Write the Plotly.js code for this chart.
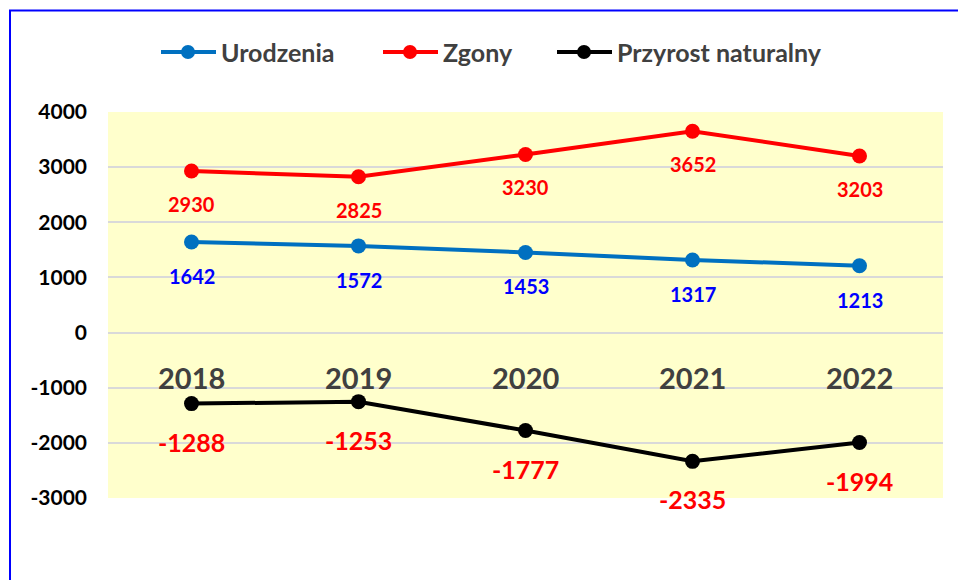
<!DOCTYPE html>
<html>
<head>
<meta charset="utf-8">
<script src="https://cdn.plot.ly/plotly-3.0.1.min.js"></script>
<style>html,body{margin:0;padding:0;background:#fff;}#chart{width:958px;height:580px;}</style>
</head>
<body>
<div id="chart"></div>
<script>
// ---- data ----
const years = ['2018', '2019', '2020', '2021', '2022'];
const seriesNames = ['Urodzenia', 'Zgony', 'Przyrost naturalny'];
const urodzenia = [1642, 1572, 1453, 1317, 1213];
const zgony = [2930, 2825, 3230, 3652, 3203];
const przyrost = [-1288, -1253, -1777, -2335, -1994];
const yTicks = [-3000, -2000, -1000, 0, 1000, 2000, 3000, 4000];

// ---- style ----
const FONT = 'Lato, "Open Sans", sans-serif';
const W = 958, H = 580;
const M = {l: 108, r: 15, t: 112, b: 82};
const PW = W - M.l - M.r, PH = H - M.t - M.b;
const px2x = p => (p - M.l) / PW;
const px2y = p => (H - M.b - p) / PH;

const lineColors = ['#0070C0', '#FF0000', '#000000'];
const labelColors = ['#0000FF', '#FF0000', '#FF0000'];
const labelSizes = [20, 20, 25];
const labelShift = [-34, -33, -38];
const allSeries = [urodzenia, zgony, przyrost];

const traces = allSeries.map((vals, i) => ({
  type: 'scatter', mode: 'lines+markers', name: seriesNames[i],
  x: years, y: vals,
  line: {color: lineColors[i], width: 4},
  marker: {color: lineColors[i], size: 15},
  showlegend: false, hoverinfo: 'skip'
}));

const annotations = [];
// data labels (category axis: position by category index)
allSeries.forEach((vals, i) => {
  vals.forEach((v, j) => {
    annotations.push({
      x: j, y: v, xref: 'x', yref: 'y', text: String(v), showarrow: false,
      yshift: labelShift[i], xanchor: 'center', yanchor: 'middle',
      font: {family: FONT, size: labelSizes[i], color: labelColors[i], weight: 'bold'}
    });
  });
});
// category labels at zero line
years.forEach((y, j) => {
  annotations.push({
    x: j, y: 0, xref: 'x', yref: 'y', text: y, showarrow: false,
    yshift: -45, xanchor: 'center', yanchor: 'middle',
    font: {family: FONT, size: 29, color: '#404040', weight: 'bold'}
  });
});

// custom legend
const shapes = [];
const legLineX = [161, 383, 557];
const legY = 52;
seriesNames.forEach((n, i) => {
  const x0 = legLineX[i], x1 = x0 + 55, cx = x0 + 27;
  shapes.push({type: 'line', xref: 'paper', yref: 'paper', x0: px2x(x0), x1: px2x(x1),
    y0: px2y(legY), y1: px2y(legY), line: {color: lineColors[i], width: 4}});
  shapes.push({type: 'circle', xref: 'paper', yref: 'paper', x0: px2x(cx - 7), x1: px2x(cx + 7),
    y0: px2y(legY - 7), y1: px2y(legY + 7), fillcolor: lineColors[i], line: {width: 0}});
  annotations.push({xref: 'paper', yref: 'paper', x: px2x(x1 + 3), y: px2y(legY), text: n,
    showarrow: false, xanchor: 'left', yanchor: 'middle',
    font: {family: FONT, size: 25, color: '#404040', weight: 'bold'}});
});
// outer blue frame
shapes.push({type: 'rect', xref: 'paper', yref: 'paper', layer: 'above',
  x0: px2x(10), x1: px2x(990), y0: px2y(10.5), y1: px2y(620),
  line: {color: '#0000FF', width: 2}, fillcolor: 'rgba(0,0,0,0)'});

const layout = {
  width: W, height: H, margin: M,
  paper_bgcolor: '#FFFFFF', plot_bgcolor: '#FFFFCC',
  showlegend: false,
  xaxis: {type: 'category', range: [-0.5, 4.5], showticklabels: false, showgrid: false,
    zeroline: false, showline: false, ticks: ''},
  yaxis: {range: [-3000, 4000], tickvals: yTicks, ticktext: yTicks.map(String),
    showgrid: true, gridcolor: '#D9D9D9', gridwidth: 2, zeroline: false, showline: false,
    ticks: '', ticklabelstandoff: 20,
    tickfont: {family: FONT, size: 21, color: '#000000', weight: 'bold'}},
  annotations: annotations, shapes: shapes
};

Plotly.newPlot('chart', traces, layout, {displayModeBar: false, staticPlot: true});
</script>
</body>
</html>
